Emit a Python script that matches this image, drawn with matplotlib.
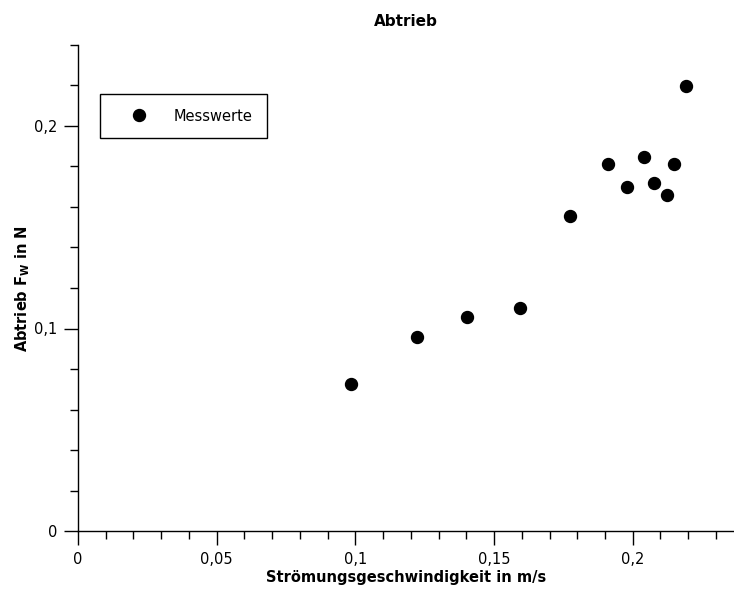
import matplotlib
matplotlib.use("Agg")
import matplotlib.pyplot as plt
from matplotlib.ticker import MultipleLocator, FuncFormatter

# Messwerte: Strömungsgeschwindigkeit (m/s) und Abtrieb (N)
speed = [0.0983, 0.1222, 0.1402, 0.1593, 0.1774, 0.1909, 0.1980,
         0.2040, 0.2078, 0.2122, 0.2150, 0.2193]
force = [0.0726, 0.0958, 0.1057, 0.1101, 0.1556, 0.1811, 0.1699,
         0.1847, 0.1720, 0.1661, 0.1811, 0.2198]

x_label = "Strömungsgeschwindigkeit in m/s"
y_label = r"Abtrieb F$_\mathbf{W}$ in N"
title = "Abtrieb"

plt.rcParams['font.family'] = ['DejaVu Sans']
plt.rcParams['font.size'] = 10.5
plt.rcParams['mathtext.default'] = 'bf'

fig = plt.figure(figsize=(7.34, 5.90), dpi=100)
ax = fig.add_axes([78/734, 59/590, 656/734, 486/590])

ax.plot(speed, force, 'o', color='black', ms=8.6, label='Messwerte')

ax.set_xlim(0, 0.2365)
ax.set_ylim(0, 0.24)

ax.spines['top'].set_visible(False)
ax.spines['right'].set_visible(False)
for s in ('left', 'bottom'):
    ax.spines[s].set_linewidth(1.0)

ax.xaxis.set_major_locator(MultipleLocator(0.05))
ax.xaxis.set_minor_locator(MultipleLocator(0.01))
ax.yaxis.set_major_locator(MultipleLocator(0.1))
ax.yaxis.set_minor_locator(MultipleLocator(0.02))

# Komma als Dezimaltrennzeichen
fmt = FuncFormatter(lambda v, p: ('%g' % round(v, 4)).replace('.', ','))
ax.xaxis.set_major_formatter(fmt)
ax.yaxis.set_major_formatter(fmt)

ax.tick_params(which='major', direction='out', length=10, width=1.0, pad=5)
ax.tick_params(which='minor', direction='out', length=5.5, width=1.0)

ax.set_xlabel(x_label, fontweight='bold', labelpad=2)
ax.set_ylabel(y_label, fontweight='bold', labelpad=1)

fig.text(406/734, 1 - 22/590, title, ha='center', va='center',
         fontweight='bold', fontsize=11)

leg = ax.legend(loc='upper left', bbox_to_anchor=(22/656, 437/486),
                borderaxespad=0, fancybox=False, edgecolor='black',
                framealpha=1, numpoints=1, borderpad=1.0,
                handlelength=3.34, handletextpad=0.73)
leg.get_frame().set_linewidth(1.0)

fig.savefig('out.png', dpi=100)
